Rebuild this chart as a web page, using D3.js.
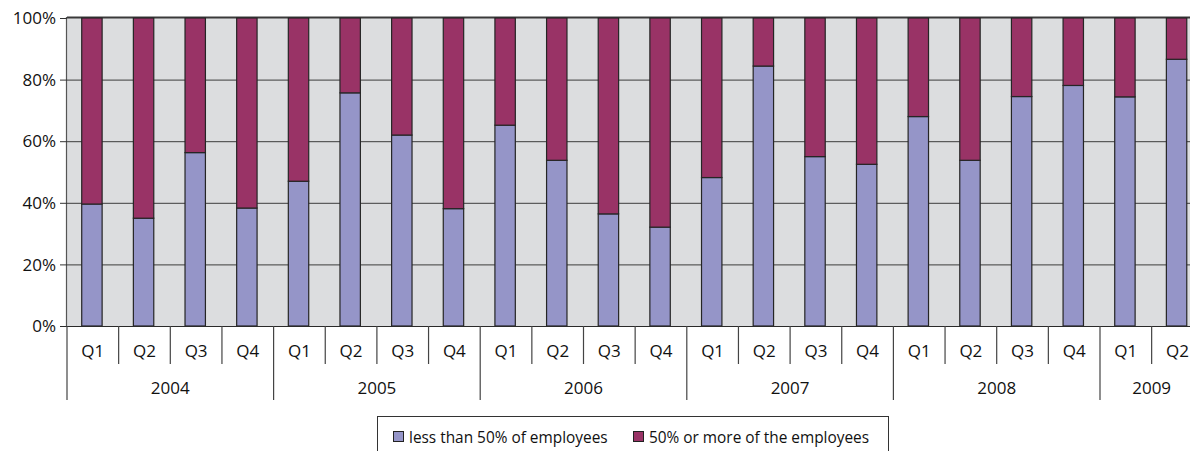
<!DOCTYPE html>
<html>
<head>
<meta charset="utf-8">
<script src="https://cdn.jsdelivr.net/npm/d3@7/dist/d3.min.js"></script>
<style>
  html, body { margin: 0; padding: 0; background: #fff; }
  svg { display: block; font-family: "Open Sans", "Noto Sans", sans-serif; }
</style>
</head>
<body>
<svg id="chart" width="1190" height="451"></svg>
<script>
// Share of firms by staff affected, per quarter
const years = ["2004", "2005", "2006", "2007", "2008", "2009"];
const quarters = ["Q1","Q2","Q3","Q4","Q1","Q2","Q3","Q4","Q1","Q2","Q3","Q4",
                  "Q1","Q2","Q3","Q4","Q1","Q2","Q3","Q4","Q1","Q2"];
const quarterYear = ["2004","2004","2004","2004","2005","2005","2005","2005",
                     "2006","2006","2006","2006","2007","2007","2007","2007",
                     "2008","2008","2008","2008","2009","2009"];
const lessThanHalf = [39.6, 35.0, 56.3, 38.3, 47.0, 75.7, 62.0, 38.1, 65.2, 53.8, 36.4,
                      32.1, 48.2, 84.4, 55.0, 52.5, 68.0, 53.8, 74.5, 78.1, 74.4, 86.6];
const halfOrMore   = [60.4, 65.0, 43.7, 61.7, 53.0, 24.3, 38.0, 61.9, 34.8, 46.2, 63.6,
                      67.9, 51.8, 15.6, 45.0, 47.5, 32.0, 46.2, 25.5, 21.9, 25.6, 13.4];
const seriesNames = ["less than 50% of employees", "50% or more of the employees"];
const yTicks = [0, 20, 40, 60, 80, 100];

const colors = ["#9595c8", "#993366"];

(function draw() {
  const svg = d3.select("#chart");
  const plotLeft = 67, plotTop = 18, plotBottom = 326;
  const bandW = 51.65;
  const plotRight = plotLeft + quarters.length * bandW;

  const idx = d3.range(quarters.length);
  const x = d3.scaleBand().domain(idx).range([plotLeft, plotRight]).padding(0);
  const y = d3.scaleLinear().domain([0, 100]).range([plotBottom, plotTop]);

  // plot background
  svg.append("rect")
    .attr("x", plotLeft).attr("y", plotTop - 1)
    .attr("width", plotRight - plotLeft).attr("height", plotBottom - plotTop + 1)
    .attr("fill", "#dcdddf");

  // horizontal gridlines
  svg.append("g").selectAll("line")
    .data(yTicks.filter(t => t > 0 && t < 100))
    .join("line")
    .attr("x1", plotLeft).attr("x2", plotRight)
    .attr("y1", d => y(d) + 0.5).attr("y2", d => y(d) + 0.5)
    .attr("stroke", "#3c3c3c").attr("stroke-width", 1);

  // top border
  svg.append("line")
    .attr("x1", plotLeft).attr("x2", plotRight)
    .attr("y1", plotTop - 0.5).attr("y2", plotTop - 0.5)
    .attr("stroke", "#3a3a3a").attr("stroke-width", 2);

  // stacked bars
  const rows = idx.map(i => ({ i, a: lessThanHalf[i], b: halfOrMore[i] }));
  const stacked = d3.stack().keys(["a", "b"])(rows);

  const barOff = bandW * 0.285, barW = bandW * 0.395;
  svg.append("g").selectAll("g")
    .data(stacked)
    .join("g")
    .attr("fill", (d, k) => colors[k])
    .selectAll("rect")
    .data(d => d)
    .join("rect")
    .attr("x", d => x(d.data.i) + barOff)
    .attr("y", d => y(d[1]))
    .attr("width", barW)
    .attr("height", d => y(d[0]) - y(d[1]))
    .attr("stroke", "#252525")
    .attr("stroke-width", 1.2);

  // left axis line and ticks
  svg.append("line")
    .attr("x1", plotLeft - 0.5).attr("x2", plotLeft - 0.5)
    .attr("y1", plotTop - 1).attr("y2", plotBottom + 1)
    .attr("stroke", "#555").attr("stroke-width", 1.2);

  const yAxis = svg.append("g");
  yAxis.selectAll("line")
    .data(yTicks)
    .join("line")
    .attr("x1", plotLeft - 7).attr("x2", plotLeft)
    .attr("y1", d => y(d) + 0.5).attr("y2", d => y(d) + 0.5)
    .attr("stroke", "#333");
  yAxis.selectAll("text")
    .data(yTicks)
    .join("text")
    .attr("x", plotLeft - 11)
    .attr("y", d => y(d))
    .attr("dy", "0.36em")
    .attr("text-anchor", "end")
    .attr("font-size", 17)
    .attr("fill", "#111")
    .text(d => d + "%");

  // bottom baseline
  svg.append("line")
    .attr("x1", plotLeft - 7).attr("x2", plotRight)
    .attr("y1", plotBottom + 0.5).attr("y2", plotBottom + 0.5)
    .attr("stroke", "#2a2a2a").attr("stroke-width", 1.2);

  // quarter ticks and labels
  const xAxis = svg.append("g");
  const yearStarts = idx.filter(i => i === 0 || quarterYear[i] !== quarterYear[i - 1]);
  xAxis.selectAll("line.q")
    .data(idx.filter(i => !yearStarts.includes(i)))
    .join("line")
    .attr("class", "q")
    .attr("x1", i => x(i)).attr("x2", i => x(i))
    .attr("y1", plotBottom).attr("y2", 364)
    .attr("stroke", "#444").attr("stroke-width", 1.2);
  xAxis.selectAll("text.q")
    .data(idx)
    .join("text")
    .attr("class", "q")
    .attr("x", i => x(i) + bandW / 2)
    .attr("y", 357)
    .attr("text-anchor", "middle")
    .attr("font-size", 17)
    .attr("fill", "#111")
    .text(i => quarters[i]);

  // year ticks and labels
  xAxis.selectAll("line.y")
    .data(yearStarts)
    .join("line")
    .attr("class", "y")
    .attr("x1", i => x(i)).attr("x2", i => x(i))
    .attr("y1", plotBottom).attr("y2", 400)
    .attr("stroke", "#444").attr("stroke-width", 1.2);
  xAxis.selectAll("text.y")
    .data(years)
    .join("text")
    .attr("class", "y")
    .attr("x", yr => {
      const members = idx.filter(i => quarterYear[i] === yr);
      return (x(members[0]) + x(members[members.length - 1]) + bandW) / 2;
    })
    .attr("y", 394)
    .attr("text-anchor", "middle")
    .attr("font-size", 17)
    .attr("fill", "#111")
    .text(yr => yr);

  // legend
  const legend = svg.append("g");
  legend.append("rect")
    .attr("x", 377.5).attr("y", 416.5)
    .attr("width", 511).attr("height", 40)
    .attr("fill", "#fff").attr("stroke", "#333");
  const legendX = [393, 633];
  seriesNames.forEach((name, k) => {
    legend.append("rect")
      .attr("x", legendX[k] + 0.5).attr("y", 431.5)
      .attr("width", 10).attr("height", 10)
      .attr("fill", colors[k]).attr("stroke", "#222");
    legend.append("text")
      .attr("x", legendX[k] + 16)
      .attr("y", 437)
      .attr("dy", "0.36em")
      .attr("font-size", 15.4)
      .attr("fill", "#111")
      .text(name);
  });
})();
</script>
</body>
</html>
